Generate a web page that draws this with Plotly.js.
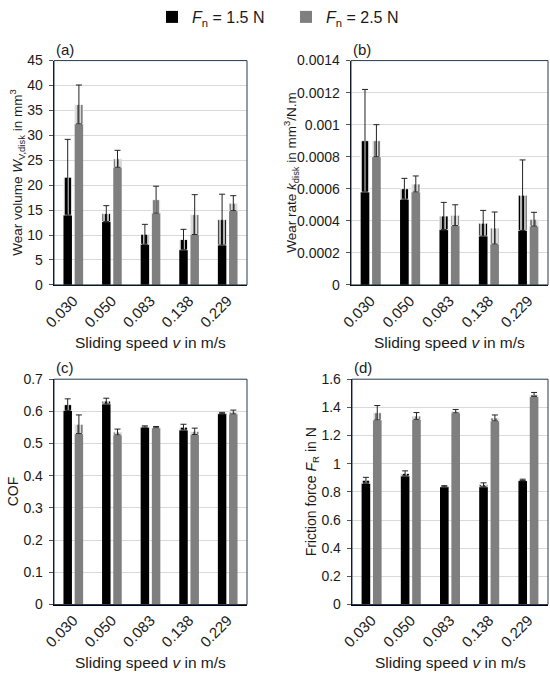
<!DOCTYPE html>
<html>
<head>
<meta charset="utf-8">
<script src="https://cdn.plot.ly/plotly-3.0.1.min.js"></script>
<style>html,body{margin:0;padding:0;background:#fff;}#chart{width:550px;height:673px;}</style>
</head>
<body>
<div id="chart"></div>
<script>
// ---- data ----
const speeds = ['0.030', '0.050', '0.083', '0.138', '0.229'];
const seriesNames = ['<i>F</i><sub>n</sub> = 1.5 N', '<i>F</i><sub>n</sub> = 2.5 N'];

const wearVol15 = [21.6, 14.3, 10.15, 9.1, 13.1];
const wearVolSd15 = [7.6, 1.6, 2.0, 2.05, 5.1];
const wearVol25 = [36.2, 25.3, 17.1, 14.1, 16.4];
const wearVolSd25 = [3.9, 1.7, 2.7, 4.0, 1.5];

const wearRate15 = [0.0009, 0.0006, 0.00043, 0.000385, 0.00056];
const wearRateSd15 = [0.00032, 0.000065, 0.000085, 0.00008, 0.00022];
const wearRate25 = [0.0009, 0.00063, 0.000435, 0.000355, 0.00041];
const wearRateSd25 = [0.0001, 0.00005, 0.000065, 0.0001, 0.000043];

const cof15 = [0.621, 0.632, 0.553, 0.551, 0.595];
const cofSd15 = [0.018, 0.009, 0.002, 0.009, 0.002];
const cof25 = [0.56, 0.536, 0.551, 0.538, 0.598];
const cofSd25 = [0.029, 0.009, 0.002, 0.01, 0.006];

const force15 = [0.882, 0.931, 0.84, 0.85, 0.885];
const forceSd15 = [0.021, 0.018, 0.004, 0.014, 0.005];
const force25 = [1.362, 1.339, 1.373, 1.325, 1.492];
const forceSd25 = [0.051, 0.024, 0.012, 0.021, 0.014];

const ticksA = [0, 5, 10, 15, 20, 25, 30, 35, 40, 45];
const ticksB = [0, 0.0002, 0.0004, 0.0006, 0.0008, 0.001, 0.0012, 0.0014];
const tickTextB = ['0', '0.0002', '0.0004', '0.0006', '0.0008', '0.001', '0.0012', '0.0014'];
const ticksC = [0, 0.1, 0.2, 0.3, 0.4, 0.5, 0.6, 0.7];
const tickTextC = ['0', '0.1', '0.2', '0.3', '0.4', '0.5', '0.6', '0.7'];
const ticksD = [0, 0.2, 0.4, 0.6, 0.8, 1, 1.2, 1.4, 1.6];
const tickTextD = ['0', '0.2', '0.4', '0.6', '0.8', '1', '1.2', '1.4', '1.6'];

// ---- styling ----
const colors = ['#000000', '#7f7f7f'];
const legendIds = ['legend', 'legend2'];
const FONT = '"Liberation Sans", Arial, sans-serif';
const TXT = '#1a1a1a';
const W = 550, H = 673;
const barW = 0.22;
const offsets = [-0.255, 0.035];

const traces = [];
function addPanel(means, sds, xa, ya, legend) {
  // bottom solid parts
  means.forEach((m, k) => {
    traces.push({
      type: 'bar', x: speeds, y: m.map((v, i) => v - sds[k][i]),
      xaxis: xa, yaxis: ya, width: barW, offset: offsets[k],
      marker: {color: colors[k], line: {width: 0}},
      name: seriesNames[k], legend: legendIds[k], legendgroup: 's' + k, showlegend: legend,
      hoverinfo: 'skip'
    });
  });
  // upper parts (mean - sd .. mean) with error bars
  means.forEach((m, k) => {
    traces.push({
      type: 'bar', x: speeds, y: sds[k], base: m.map((v, i) => v - sds[k][i]),
      xaxis: xa, yaxis: ya, width: barW, offset: offsets[k],
      marker: {color: colors[k], line: {color: '#ffffff', width: 0.8},
        pattern: {shape: '|', fgcolor: '#ffffff', bgcolor: colors[k], size: 4, solidity: 0.35}},
      error_y: {type: 'data', array: sds[k], visible: true, color: '#222', thickness: 1, width: 3},
      name: seriesNames[k], legend: legendIds[k], legendgroup: 's' + k, showlegend: false,
      hoverinfo: 'skip'
    });
  });
}
addPanel([wearVol15, wearVol25], [wearVolSd15, wearVolSd25], 'x', 'y', true);
addPanel([wearRate15, wearRate25], [wearRateSd15, wearRateSd25], 'x2', 'y2', false);
addPanel([cof15, cof25], [cofSd15, cofSd25], 'x3', 'y3', false);
addPanel([force15, force25], [forceSd15, forceSd25], 'x4', 'y4', false);

// pixel domains
const px = (a, b) => [a / W, b / W];
const py = (top, bot) => [1 - bot / H, 1 - top / H];
const dom = {
  a: {x: px(54, 247), y: py(56, 282)},
  b: {x: px(351, 548), y: py(56, 282)},
  c: {x: px(54, 247), y: py(377, 604)},
  d: {x: px(352, 548), y: py(377, 604)}
};

function xAxis(d, anchor) {
  return {domain: d, anchor: anchor, type: 'category', range: [-0.5, 4.5],
    showgrid: false, zeroline: false, showline: true, linecolor: '#000', linewidth: 1.3,
    ticks: '', tickangle: -45, tickfont: {family: FONT, size: 15, color: TXT}, fixedrange: true};
}
function yAxis(d, anchor, range, vals, text) {
  const a = {domain: d, anchor: anchor, range: range, tickmode: 'array', tickvals: vals,
    showgrid: true, gridcolor: '#d9d9d9', gridwidth: 1, zeroline: false,
    showline: true, linecolor: '#000', linewidth: 1.3,
    ticks: 'outside', ticklen: 4, tickcolor: '#555', tickwidth: 1, ticklabelstandoff: 3,
    tickfont: {family: FONT, size: 14, color: TXT}, fixedrange: true};
  if (text) a.ticktext = text;
  return a;
}

const ann = [];
function label(text, xref, yref) {
  ann.push({text: text, xref: xref + ' domain', yref: yref + ' domain', x: 0, y: 1,
    xanchor: 'left', yanchor: 'bottom', yshift: 1, showarrow: false,
    font: {family: FONT, size: 15, color: TXT}});
}
function pTitle(text, x, y, angle, size) {
  ann.push({text: text, xref: 'paper', yref: 'paper', x: x / W, y: 1 - y / H,
    xanchor: 'center', yanchor: 'middle', showarrow: false, textangle: angle,
    font: {family: FONT, size: size, color: TXT}});
}
label('(a)', 'x', 'y'); label('(b)', 'x2', 'y2'); label('(c)', 'x3', 'y3'); label('(d)', 'x4', 'y4');
const sliding = 'Sliding speed <i>v</i> in m/s';
pTitle(sliding, 150.5, 340, 0, 15.5);
pTitle(sliding, 449.5, 340, 0, 15.5);
pTitle(sliding, 150.5, 662, 0, 15.5);
pTitle(sliding, 450, 662, 0, 15.5);
pTitle('Wear volume <i>W</i><sub>V,disk</sub> in mm<sup>3</sup>', 17, 169, -90, 13.5);
pTitle('Wear rate <i>k</i><sub>disk</sub> in mm<sup>3</sup>/N.m', 291, 169, -90, 13.5);
pTitle('COF', 13, 490, -90, 14);
pTitle('Friction force <i>F</i><sub>R</sub> in N', 312, 491, -90, 14);

const shapes = [['x', 'y'], ['x2', 'y2'], ['x3', 'y3'], ['x4', 'y4']].map(([xr, yr]) => ({
  type: 'rect', xref: xr + ' domain', yref: yr + ' domain', x0: 0, x1: 1, y0: 0, y1: 1,
  line: {color: '#243a52', width: 1}, layer: 'above'
}));

const legendBase = {orientation: 'h', xanchor: 'left', y: 1.008, yanchor: 'top',
  font: {family: FONT, size: 16, color: TXT}, itemclick: false, itemdoubleclick: false};

const layout = {
  width: W, height: H, margin: {l: 0, r: 0, t: 0, b: 0},
  paper_bgcolor: '#fff', plot_bgcolor: '#fff',
  barmode: 'overlay',
  font: {family: FONT, color: TXT},
  showlegend: true,
  legend: Object.assign({}, legendBase, {x: 152 / W}),
  legend2: Object.assign({}, legendBase, {x: 286 / W}),
  xaxis: xAxis(dom.a.x, 'y'),
  yaxis: yAxis(dom.a.y, 'x', [0, 45], ticksA),
  xaxis2: xAxis(dom.b.x, 'y2'),
  yaxis2: yAxis(dom.b.y, 'x2', [0, 0.0014], ticksB, tickTextB),
  xaxis3: xAxis(dom.c.x, 'y3'),
  yaxis3: yAxis(dom.c.y, 'x3', [0, 0.7], ticksC, tickTextC),
  xaxis4: xAxis(dom.d.x, 'y4'),
  yaxis4: yAxis(dom.d.y, 'x4', [0, 1.6], ticksD, tickTextD),
  annotations: ann,
  shapes: shapes
};

Plotly.newPlot('chart', traces, layout, {displayModeBar: false, staticPlot: true});
</script>
</body>
</html>
